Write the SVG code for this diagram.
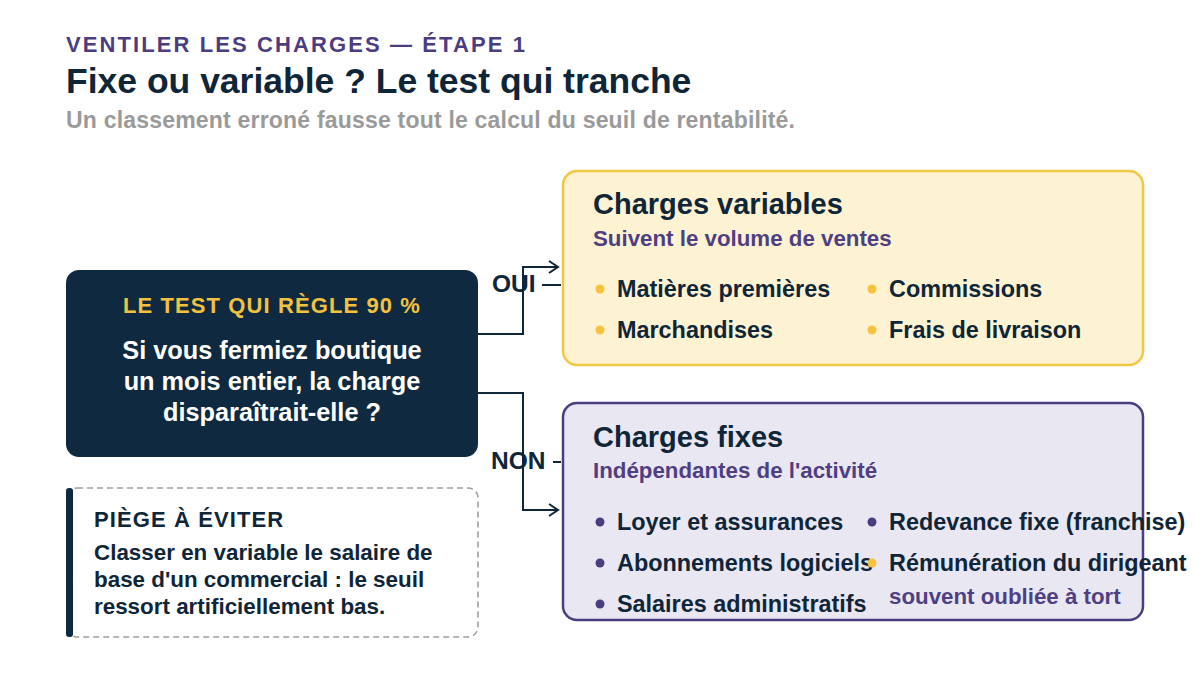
<svg xmlns="http://www.w3.org/2000/svg" width="1200" height="675" viewBox="0 0 1200 675">
<defs>
<style>
text{font-family:"Liberation Sans",Arial,sans-serif;font-weight:bold}
.kick{font-size:22px;fill:#4b3d80;letter-spacing:2.1px}
.title{font-size:35.5px;fill:#0f2538}
.sub{font-size:23px;fill:#9a9a9a;letter-spacing:0.2px}
.h{font-size:29px;fill:#0f2538}
.hs{font-size:22.3px;fill:#4f3f82}
.it{font-size:23.4px;fill:#0f2538}
.note{font-size:22.3px;fill:#4f3f82}
.tq{font-size:22px;fill:#f2c23f;letter-spacing:1.1px}
.tb{font-size:25.3px;fill:#ffffff}
.wh{font-size:22px;fill:#0f2538;letter-spacing:1.1px}
.wb{font-size:22.4px;fill:#0f2538}
.lab{font-size:24.5px;fill:#0f2538}
.conn{fill:none;stroke:#0f2538;stroke-width:2}
.dy{fill:#f5c33e}
.dp{fill:#4b3d80}
</style>
<marker id="arr" markerWidth="14" markerHeight="14" refX="11" refY="7" orient="auto" markerUnits="userSpaceOnUse">
<path d="M2,1 L11,7 L2,13" fill="none" stroke="#0f2538" stroke-width="2"/>
</marker>
</defs>
<rect width="1200" height="675" fill="#ffffff"/>
<g id="header">
<text class="kick" x="66" y="52">VENTILER LES CHARGES — ÉTAPE 1</text>
<text class="title" x="66" y="93">Fixe ou variable ? Le test qui tranche</text>
<text class="sub" x="66" y="128">Un classement erroné fausse tout le calcul du seuil de rentabilité.</text>
</g>
<g id="connectors">
<path class="conn" d="M478,334 H523 V267 H558" marker-end="url(#arr)"/>
<path class="conn" d="M478,393 H523 V510 H558" marker-end="url(#arr)"/>
<line class="conn" x1="542" y1="285" x2="561" y2="285"/>
<line class="conn" x1="553" y1="462" x2="561" y2="462"/>
<text class="lab" x="492" y="292">OUI</text>
<text class="lab" x="491" y="469">NON</text>
</g>
<g id="test">
<rect x="66" y="270" width="412" height="187" rx="13" fill="#0f2a40"/>
<text class="tq" x="272" y="313" text-anchor="middle">LE TEST QUI RÈGLE 90 %</text>
<text class="tb" x="272" y="359" text-anchor="middle">Si vous fermiez boutique</text>
<text class="tb" x="272" y="390" text-anchor="middle">un mois entier, la charge</text>
<text class="tb" x="272" y="421" text-anchor="middle">disparaîtrait-elle ?</text>
</g>
<g id="warning">
<rect x="67" y="488" width="411" height="149" rx="10" fill="#ffffff" stroke="#a0a0a0" stroke-width="1.6" stroke-dasharray="6,4"/>
<rect x="66" y="488" width="7" height="149" rx="3" fill="#0f2a40"/>
<text class="wh" x="94" y="527">PIÈGE À ÉVITER</text>
<text class="wb" x="94" y="560">Classer en variable le salaire de</text>
<text class="wb" x="94" y="587">base d'un commercial : le seuil</text>
<text class="wb" x="94" y="614">ressort artificiellement bas.</text>
</g>
<g id="variables">
<rect x="563" y="171" width="580" height="194" rx="14" fill="#fdf3d2" stroke="#f2c744" stroke-width="2.5"/>
<text class="h" x="593" y="214">Charges variables</text>
<text class="hs" x="593" y="246">Suivent le volume de ventes</text>
<circle class="dy" cx="600" cy="289" r="4.5"/>
<text class="it" x="617" y="297">Matières premières</text>
<circle class="dy" cx="600" cy="330" r="4.5"/>
<text class="it" x="617" y="338">Marchandises</text>
<circle class="dy" cx="872" cy="289" r="4.5"/>
<text class="it" x="889" y="297">Commissions</text>
<circle class="dy" cx="872" cy="330" r="4.5"/>
<text class="it" x="889" y="338">Frais de livraison</text>
</g>
<g id="fixes">
<rect x="563" y="403" width="580" height="217" rx="14" fill="#e9e7f2" stroke="#4b3d80" stroke-width="2.5"/>
<text class="h" x="593" y="447">Charges fixes</text>
<text class="hs" x="593" y="478">Indépendantes de l'activité</text>
<circle class="dp" cx="600" cy="522" r="4.5"/>
<text class="it" x="617" y="530">Loyer et assurances</text>
<circle class="dp" cx="600" cy="563" r="4.5"/>
<text class="it" x="617" y="571">Abonnements logiciels</text>
<circle class="dp" cx="600" cy="604" r="4.5"/>
<text class="it" x="617" y="612">Salaires administratifs</text>
<circle class="dp" cx="872" cy="522" r="4.5"/>
<text class="it" x="889" y="530">Redevance fixe (franchise)</text>
<circle class="dy" cx="872" cy="563" r="4.5"/>
<text class="it" x="889" y="571">Rémunération du dirigeant</text>
<text class="note" x="889" y="604">souvent oubliée à tort</text>
</g>
</svg>
